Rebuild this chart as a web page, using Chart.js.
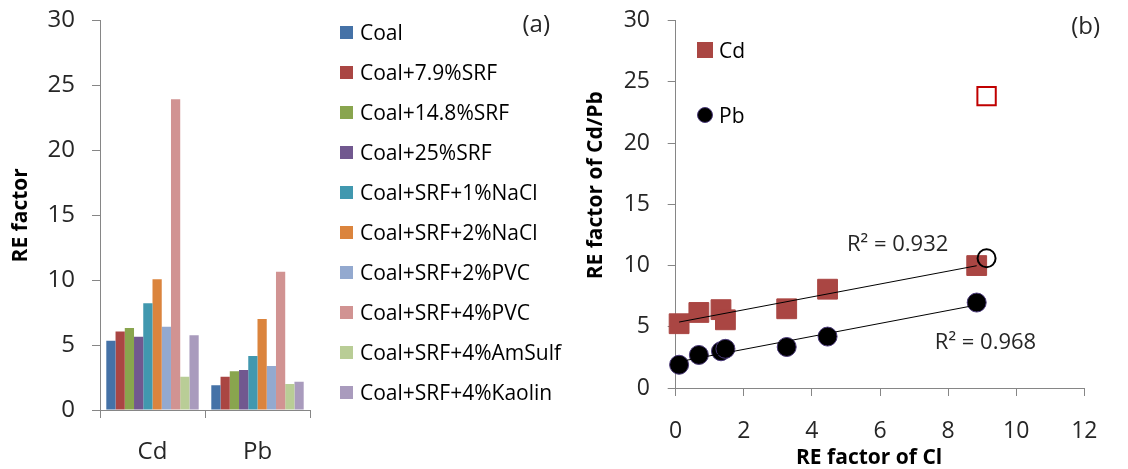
<!DOCTYPE html>
<html>
<head>
<meta charset="utf-8">
<script src="https://cdn.jsdelivr.net/npm/chart.js@4.4.1/dist/chart.umd.min.js"></script>
<style>
  body { margin: 0; background: #fff; }
  #wrap { position: relative; width: 1128px; height: 469px; overflow: hidden; font-family: "Open Sans", sans-serif; }
  canvas { position: absolute; top: 0; }
  #chartA { left: 0; }
  #chartB { left: 570px; }
  .legend-row { position: absolute; display: flex; align-items: center; height: 40px; font-size: 21px; line-height: 21px; color: #000; white-space: nowrap; z-index: 2; }
  .legend-row .mark { display: inline-block; flex: none; box-sizing: border-box; }
</style>
</head>
<body>
<div id="wrap">
  <canvas id="chartA" width="576" height="469"></canvas>
  <canvas id="chartB" width="558" height="469"></canvas>
</div>
<script>
// (a) RE factor per fuel blend
const elements = ['Cd', 'Pb'];
const blends = ['Coal', 'Coal+7.9%SRF', 'Coal+14.8%SRF', 'Coal+25%SRF', 'Coal+SRF+1%NaCl',
  'Coal+SRF+2%NaCl', 'Coal+SRF+2%PVC', 'Coal+SRF+4%PVC', 'Coal+SRF+4%AmSulf', 'Coal+SRF+4%Kaolin'];
const blendColors = ['#4572A7', '#AA4643', '#89A54E', '#71588F', '#4198AF',
  '#DB843D', '#93A9CF', '#D19392', '#B9CD96', '#A99BBD'];
const reCd = [5.34, 6.04, 6.32, 5.65, 8.22, 10.07, 6.42, 23.95, 2.57, 5.76];
const rePb = [1.90, 2.57, 2.98, 3.08, 4.16, 7.02, 3.39, 10.66, 2.00, 2.18];
const yTicksA = [0, 5, 10, 15, 20, 25, 30];

// (b) RE factor of Cd/Pb against RE factor of Cl
const clFactor = [0.10, 0.68, 1.33, 1.46, 3.26, 4.46, 8.84];
const cdFactor = [5.25, 6.17, 6.40, 5.57, 6.47, 8.07, 10.00];
const pbFactor = [1.90, 2.70, 3.00, 3.20, 3.35, 4.20, 6.98];
const outlierCl = [9.13];
const outlierCd = [23.84];
const outlierPb = [10.60];
const xTicksB = [0, 2, 4, 6, 8, 10, 12];
const yTicksB = [0, 5, 10, 15, 20, 25, 30];

Chart.defaults.font.family = '"Open Sans", sans-serif';
Chart.defaults.color = '#262626';
const axisColor = '#868686';

// texte libre : (a), (b), R²
const notesPlugin = {
  id: 'notes',
  afterDraw(chart, args, opts) {
    const ctx = chart.ctx;
    ctx.save();
    ctx.fillStyle = '#262626';
    ctx.textBaseline = 'middle';
    (opts.items || []).forEach(n => {
      ctx.font = n.font;
      ctx.textAlign = n.align || 'left';
      let x = n.x, y = n.y;
      if (n.data) {
        x = chart.scales.x.getPixelForValue(n.x);
        y = chart.scales.y.getPixelForValue(n.y);
      }
      ctx.fillText(n.text, x, y);
    });
    ctx.restore();
  }
};

function pts(xs, ys) {
  return xs.map((x, i) => ({ x: x, y: ys[i] }));
}

// droite de tendance (moindres carrés)
function linearFit(xs, ys) {
  const n = xs.length;
  const mx = xs.reduce((a, b) => a + b, 0) / n;
  const my = ys.reduce((a, b) => a + b, 0) / n;
  let sxy = 0, sxx = 0;
  xs.forEach((x, i) => {
    sxy += (x - mx) * (ys[i] - my);
    sxx += (x - mx) * (x - mx);
  });
  const slope = sxy / sxx;
  const b = my - slope * mx;
  const x0 = Math.min(...xs), x1 = Math.max(...xs);
  return [{ x: x0, y: b + slope * x0 }, { x: x1, y: b + slope * x1 }];
}

// légende HTML à partir des items de Chart.js
function htmlLegend(chart, opt) {
  const wrap = document.getElementById('wrap');
  const items = Chart.defaults.plugins.legend.labels.generateLabels(chart)
    .filter(opt.keep || (() => true))
    .sort((a, b) => a.datasetIndex - b.datasetIndex);
  items.forEach((it, i) => {
    const ds = chart.data.datasets[it.datasetIndex];
    const row = document.createElement('div');
    row.className = 'legend-row';
    row.style.left = opt.left + 'px';
    row.style.top = (opt.firstCenter - 20 + i * opt.step) + 'px';
    const mark = document.createElement('span');
    mark.className = 'mark';
    mark.style.width = mark.style.height = opt.size + 'px';
    mark.style.marginRight = opt.gap + 'px';
    mark.style.background = it.fillStyle;
    if (ds.pointStyle === 'circle') {
      mark.style.borderRadius = '50%';
      mark.style.border = '1px solid ' + ds.borderColor;
    }
    const txt = document.createElement('span');
    txt.textContent = it.text;
    row.appendChild(mark);
    row.appendChild(txt);
    wrap.appendChild(row);
  });
}

// ---------- (a) ----------
const chartA = new Chart(document.getElementById('chartA'), {
  type: 'bar',
  data: {
    labels: elements,
    datasets: blends.map((name, i) => ({
      label: name,
      data: [reCd[i], rePb[i]],
      backgroundColor: blendColors[i],
      borderWidth: 0,
      categoryPercentage: 0.88,
      barPercentage: 1.0
    }))
  },
  options: {
    responsive: false,
    animation: false,
    devicePixelRatio: 1,
    layout: { padding: { top: 0, right: 266, bottom: 0, left: 0 } },
    scales: {
      x: {
        grid: { offset: true, drawOnChartArea: false, tickLength: 8, color: axisColor },
        border: { color: axisColor },
        ticks: { padding: 20, font: { size: 24 } },
        afterFit: s => { s.height = 59; }
      },
      y: {
        min: yTicksA[0],
        max: yTicksA[yTicksA.length - 1],
        ticks: { stepSize: yTicksA[1] - yTicksA[0], padding: 17, font: { size: 24, lineHeight: 0.3 } },
        grid: { drawOnChartArea: false, tickLength: 8, color: axisColor },
        border: { color: axisColor },
        title: { display: true, text: 'RE factor', font: { size: 21, weight: 'bold' }, padding: { top: 8, bottom: 0 }, color: '#000' },
        afterFit: s => { s.width = 100; }
      }
    },
    plugins: {
      tooltip: { enabled: false },
      legend: { display: false },
      notes: { items: [{ text: '(a)', x: 550, y: 25, align: 'right', font: '24px "Open Sans"' }] }
    }
  },
  plugins: [notesPlugin]
});
htmlLegend(chartA, { left: 340, firstCenter: 32.5, step: 40, size: 13, gap: 7 });

// ---------- (b) ----------
const chartB = new Chart(document.getElementById('chartB'), {
  type: 'scatter',
  data: {
    datasets: [
      { label: 'fit Cd', data: linearFit(clFactor, cdFactor), showLine: true, borderColor: '#000', borderWidth: 1, pointRadius: 0, order: 0 },
      { label: 'fit Pb', data: linearFit(clFactor, pbFactor), showLine: true, borderColor: '#000', borderWidth: 1, pointRadius: 0, order: 0 },
      { label: 'Cd', data: pts(clFactor, cdFactor), pointStyle: 'rect', pointRadius: 14, backgroundColor: '#AA4643', borderColor: '#AA4643', borderWidth: 1, clip: false, order: 4 },
      { label: 'Pb', data: pts(clFactor, pbFactor), pointStyle: 'circle', pointRadius: 9.5, backgroundColor: '#000', borderColor: '#4B3A7A', borderWidth: 1, clip: false, order: 3 },
      { label: 'Cd PVC', data: pts(outlierCl, outlierCd), pointStyle: 'rect', pointRadius: 13, backgroundColor: 'rgba(255,255,255,0)', borderColor: '#C00000', borderWidth: 2, clip: false, order: 2 },
      { label: 'Pb PVC', data: pts(outlierCl, outlierPb), pointStyle: 'circle', pointRadius: 9, backgroundColor: 'rgba(255,255,255,0)', borderColor: '#000', borderWidth: 2, clip: false, order: 1 }
    ]
  },
  options: {
    responsive: false,
    animation: false,
    devicePixelRatio: 1,
    layout: { padding: { top: 20.7, right: 43.7, bottom: 0, left: 0 } },
    scales: {
      x: {
        type: 'linear',
        min: xTicksB[0],
        max: xTicksB[xTicksB.length - 1],
        ticks: { stepSize: xTicksB[1] - xTicksB[0], padding: 22, font: { size: 23 } },
        grid: { drawOnChartArea: false, tickLength: 8, color: axisColor },
        border: { color: axisColor },
        title: { display: true, text: 'RE factor of Cl    ', font: { size: 21, weight: 'bold' }, padding: { top: 0, bottom: -2 }, color: '#000' },
        afterFit: s => { s.height = 81; }
      },
      y: {
        min: yTicksB[0],
        max: yTicksB[yTicksB.length - 1],
        ticks: { stepSize: yTicksB[1] - yTicksB[0], padding: 17.7, font: { size: 23, lineHeight: 0.25 } },
        grid: { drawOnChartArea: false, tickLength: 8, color: axisColor },
        border: { color: axisColor },
        title: { display: true, text: '       RE factor of Cd/Pb', font: { size: 21, weight: 'bold' }, padding: { top: 13.9, bottom: 0 }, color: '#000' },
        afterFit: s => { s.width = 105.7; }
      }
    },
    plugins: {
      tooltip: { enabled: false },
      legend: { display: false },
      notes: {
        items: [
          { text: '(b)', x: 530, y: 27, align: 'right', font: '24px "Open Sans"' },
          { text: 'R² = 0.932', x: 5.03, y: 11.7, data: true, font: '22px "Open Sans"' },
          { text: 'R² = 0.968', x: 7.61, y: 3.7, data: true, font: '22px "Open Sans"' }
        ]
      }
    }
  },
  plugins: [notesPlugin]
});
htmlLegend(chartB, { left: 697, firstCenter: 50, step: 65, size: 16, gap: 6,
  keep: it => it.text === 'Cd' || it.text === 'Pb' });
</script>
</body>
</html>
